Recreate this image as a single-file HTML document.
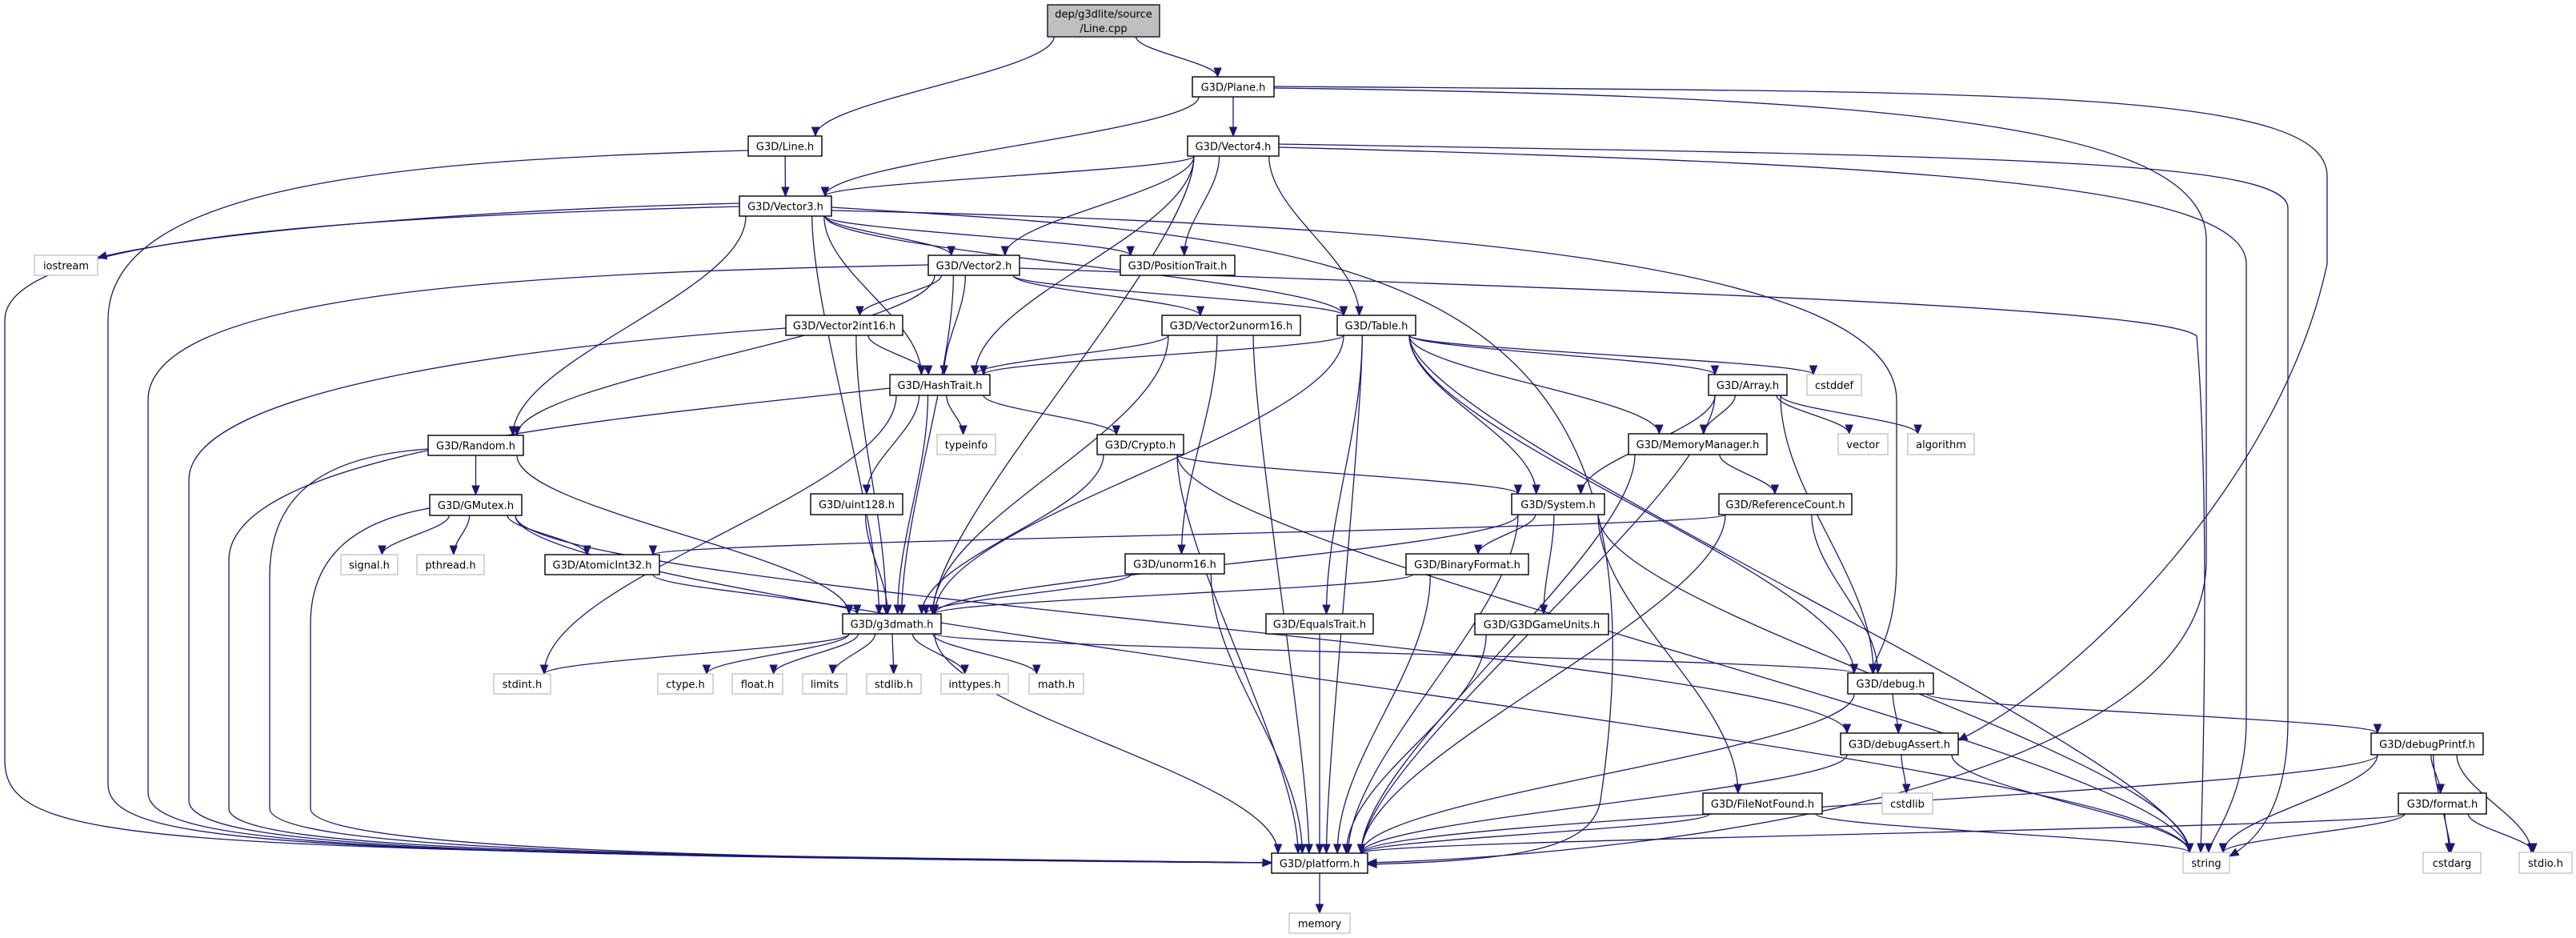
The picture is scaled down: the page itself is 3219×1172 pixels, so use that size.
<!DOCTYPE html>
<html><head><meta charset="utf-8">
<style>
html,body{margin:0;padding:0;background:#fff;}
svg{display:block;}
text{font-family:"DejaVu Sans","Liberation Sans",sans-serif;font-size:13px;fill:#000;}
</style></head>
<body>
<svg id="g" xmlns="http://www.w3.org/2000/svg" width="3219" height="1172" viewBox="0 0 3219 1172">
<rect width="3219" height="1172" fill="#fff"/>
<g id="edges" fill="none" stroke="#191970" stroke-width="1.3"></g>
<g id="heads" fill="#191970" stroke="#191970" stroke-width="1"></g>
<g id="nodes">
<rect x="1309" y="6" width="140" height="40" fill="#bfbfbf" stroke="#000" stroke-width="1.3"/>
<text x="1379" y="22" text-anchor="middle">dep/g3dlite/source</text>
<text x="1379" y="40" text-anchor="middle">/Line.cpp</text>
</g>
</svg>
<script>
var N={
Plane:[1490,96,1592,121,"G3D/Plane.h",1],
LineH:[935,170,1027,195,"G3D/Line.h",1],
Vector4:[1484,170,1598,195,"G3D/Vector4.h",1],
Vector3:[924,245,1039,270,"G3D/Vector3.h",1],
iostream:[43,319,122,344,"iostream",0],
Vector2:[1160,319,1274,344,"G3D/Vector2.h",1],
PositionTrait:[1400,319,1543,344,"G3D/PositionTrait.h",1],
Vector2int16:[982,394,1128,419,"G3D/Vector2int16.h",1],
Vector2unorm16:[1452,394,1625,419,"G3D/Vector2unorm16.h",1],
Table:[1671,394,1769,419,"G3D/Table.h",1],
HashTrait:[1112,468,1237,494,"G3D/HashTrait.h",1],
Array:[2135,468,2233,494,"G3D/Array.h",1],
cstddef:[2258,468,2326,494,"cstddef",0],
Random:[535,544,654,569,"G3D/Random.h",1],
typeinfo:[1171,543,1244,568,"typeinfo",0],
Crypto:[1371,543,1479,568,"G3D/Crypto.h",1],
MemoryManager:[2035,542,2208,568,"G3D/MemoryManager.h",1],
vector:[2297,542,2359,568,"vector",0],
algorithm:[2384,542,2467,568,"algorithm",0],
GMutex:[537,618,652,644,"G3D/GMutex.h",1],
uint128:[1013,617,1128,643,"G3D/uint128.h",1],
System:[1889,617,2005,643,"G3D/System.h",1],
ReferenceCount:[2148,617,2314,643,"G3D/ReferenceCount.h",1],
signal:[426,693,497,718,"signal.h",0],
pthread:[521,693,605,718,"pthread.h",0],
AtomicInt32:[681,693,824,718,"G3D/AtomicInt32.h",1],
unorm16:[1406,692,1530,717,"G3D/unorm16.h",1],
BinaryFormat:[1757,692,1910,718,"G3D/BinaryFormat.h",1],
g3dmath:[1053,767,1176,792,"G3D/g3dmath.h",1],
EqualsTrait:[1582,767,1716,792,"G3D/EqualsTrait.h",1],
G3DGameUnits:[1843,767,2010,793,"G3D/G3DGameUnits.h",1],
stdint:[617,842,688,867,"stdint.h",0],
ctype:[822,842,891,867,"ctype.h",0],
float:[915,842,978,867,"float.h",0],
limits:[1003,842,1058,867,"limits",0],
stdlib:[1083,842,1151,867,"stdlib.h",0],
inttypes:[1176,842,1260,867,"inttypes.h",0],
math:[1286,842,1354,867,"math.h",0],
debug:[2309,841,2416,867,"G3D/debug.h",1],
debugAssert:[2300,916,2447,943,"G3D/debugAssert.h",1],
debugPrintf:[2963,916,3103,943,"G3D/debugPrintf.h",1],
FileNotFound:[2128,991,2277,1017,"G3D/FileNotFound.h",1],
cstdlib:[2352,991,2415,1017,"cstdlib",0],
format:[2997,991,3107,1017,"G3D/format.h",1],
platform:[1589,1066,1709,1091,"G3D/platform.h",1],
string:[2728,1065,2786,1091,"string",0],
cstdarg:[3028,1065,3100,1091,"cstdarg",0],
stdio:[3148,1065,3214,1091,"stdio.h",0],
memory:[1611,1141,1687,1166,"memory",0],
LineCpp:[1309,6,1449,46,"",2]
};
var E=[
["LineCpp","LineH"],["LineCpp","Plane"],
["Plane","Vector3"],["Plane","Vector4"],
["Vector4","Vector3"],["Vector4","Vector2"],["Vector4","PositionTrait"],["Vector4","Table"],["Vector4","HashTrait"],["Vector4","g3dmath"],
["LineH","Vector3"],
["Vector3","Random"],["Vector3","g3dmath"],["Vector3","HashTrait"],["Vector3","Vector2"],["Vector3","PositionTrait"],["Vector3","Table"],
["Vector2","Random"],["Vector2","g3dmath"],["Vector2","Vector2int16"],["Vector2","HashTrait"],["Vector2","Vector2unorm16"],["Vector2","Table"],
["Vector2int16","HashTrait"],["Vector2int16","g3dmath"],
["Vector2unorm16","HashTrait"],["Vector2unorm16","g3dmath"],["Vector2unorm16","unorm16"],["Vector2unorm16","platform"],
["Table","HashTrait"],["Table","g3dmath"],["Table","Array"],["Table","cstddef"],["Table","MemoryManager"],["Table","System"],["Table","EqualsTrait"],["Table","platform"],["Table","debug"],["Table","string"],
["HashTrait","typeinfo"],["HashTrait","Crypto"],["HashTrait","uint128"],["HashTrait","g3dmath"],["HashTrait","stdint"],
["Crypto","System"],["Crypto","g3dmath"],["Crypto","platform"],["Crypto","string"],
["uint128","g3dmath"],
["Random","GMutex"],["Random","g3dmath"],
["GMutex","signal"],["GMutex","pthread"],["GMutex","AtomicInt32"],["GMutex","debugAssert"],["GMutex","string"],
["AtomicInt32","g3dmath"],
["unorm16","g3dmath"],["unorm16","platform"],
["EqualsTrait","platform"],
["g3dmath","stdint"],["g3dmath","ctype"],["g3dmath","float"],["g3dmath","limits"],["g3dmath","stdlib"],["g3dmath","inttypes"],["g3dmath","math"],["g3dmath","platform"],["g3dmath","debug"],
["Array","MemoryManager"],["Array","System"],["Array","vector"],["Array","algorithm"],["Array","platform"],["Array","debug"],
["MemoryManager","ReferenceCount"],["MemoryManager","platform"],
["ReferenceCount","AtomicInt32"],["ReferenceCount","debug"],["ReferenceCount","platform"],
["System","g3dmath"],["System","BinaryFormat"],["System","G3DGameUnits"],["System","FileNotFound"],["System","platform"],["System","string"],
["BinaryFormat","g3dmath"],["BinaryFormat","platform"],
["G3DGameUnits","platform"],
["FileNotFound","platform"],["FileNotFound","string"],
["debug","debugAssert"],["debug","debugPrintf"],["debug","platform"],
["debugAssert","cstdlib"],["debugAssert","string"],["debugAssert","platform"],
["debugPrintf","format"],["debugPrintf","cstdarg"],["debugPrintf","stdio"],["debugPrintf","string"],["debugPrintf","platform"],
["format","cstdarg"],["format","stdio"],["format","string"],["format","platform"],
["platform","memory"]
];
var S=[
["M924,254 C600,262 250,290 122,322",1],
["M924,258 C400,272 6,300 6,400 L6,950 C6,1060 200,1060 1589,1078",1],
["M935,188 C500,200 135,230 135,400 L135,980 C135,1060 400,1065 1589,1078",1],
["M1160,331 C700,340 185,360 185,500 L185,990 C185,1060 500,1068 1589,1078",1],
["M982,410 C700,430 236,480 236,600 L236,1000 C236,1060 600,1070 1589,1078",1],
["M1112,485 C800,520 286,560 286,700 L286,1010 C286,1060 700,1070 1589,1078",1],
["M535,561 C400,570 337,620 337,720 L337,1010 C337,1060 800,1072 1589,1078",1],
["M537,635 C450,650 388,690 388,780 L388,1010 C388,1060 900,1074 1589,1078",1],
["M1592,108 C2500,115 2908,110 2908,220 L2908,330 C2850,600 2600,850 2447,925",1],
["M1592,110 C2400,120 2757,160 2757,300 L2757,700 C2757,1000 2000,1070 1709,1078",1],
["M1598,180 C2500,195 2859,200 2859,260 L2859,900 C2859,1010 2820,1050 2786,1070",1],
["M1598,184 C2400,205 2807,230 2807,330 L2807,900 C2807,1000 2760,1050 2760,1065",1],
["M1039,263 C1800,280 2370,330 2370,500 L2370,700 C2370,800 2340,820 2340,841",1],
["M1274,335 C1900,360 2700,380 2745,420 C2760,600 2755,900 2750,1065",1],
["M1039,259 C1700,300 2100,320 2000,1000 C1990,1060 1900,1075 1709,1080",1]
];
var ns="http://www.w3.org/2000/svg";
var eg=document.getElementById("edges"),hg=document.getElementById("heads"),ng=document.getElementById("nodes");
function el(t,a,p){var e=document.createElementNS(ns,t);for(var k in a)e.setAttribute(k,a[k]);p.appendChild(e);return e;}
function head(px,py,ex,ey){var dx=ex-px,dy=ey-py,l=Math.sqrt(dx*dx+dy*dy)||1;dx/=l;dy/=l;var L=11,W=4.5;var bx=ex-dx*L,by=ey-dy*L;
el("polygon",{points:ex+","+ey+" "+(bx-dy*W)+","+(by+dx*W)+" "+(bx+dy*W)+","+(by-dx*W)},hg);}
function c(n){return [(n[0]+n[2])/2,(n[1]+n[3])/2];}
function clamp(v,a,b){return Math.max(a,Math.min(b,v));}
E.forEach(function(e){var a=N[e[0]],b=N[e[1]];var ca=c(a),cb=c(b);var sx,sy,ex,ey,d,k;
if(b[1]-a[3]>20){sx=clamp(ca[0]+(cb[0]-ca[0])*0.25,a[0]+8,a[2]-8);sy=a[3];ex=clamp(cb[0]+(ca[0]-cb[0])*0.12,b[0]+8,b[2]-8);ey=b[1];
k=Math.min((ey-sy)*0.35,120);d="M"+sx+","+sy+" C"+sx+","+(sy+k)+" "+ex+","+(ey-k)+" "+ex+","+ey;el("path",{d:d},eg);head(ex,ey-k,ex,ey);}
else if(a[1]-b[3]>20){sx=ca[0];sy=a[1];ex=cb[0];ey=b[3];d="M"+sx+","+sy+" L"+ex+","+ey;el("path",{d:d},eg);head(sx,sy,ex,ey);}
else{var r=cb[0]>ca[0];sx=r?a[2]:a[0];sy=ca[1];ex=r?b[0]:b[2];ey=cb[1];k=(ex-sx)*0.4;d="M"+sx+","+sy+" C"+(sx+k)+","+sy+" "+(ex-k)+","+ey+" "+ex+","+ey;el("path",{d:d},eg);head(ex-k,ey,ex,ey);}
});
S.forEach(function(s){el("path",{d:s[0]},eg);var m=s[0].match(/-?[\d.]+/g).map(Number);var n=m.length;head(m[n-4],m[n-3],m[n-2],m[n-1]);});
for(var k in N){var n=N[k];if(n[5]==2)continue;var w=n[2]-n[0],h=n[3]-n[1];
el("rect",{x:n[0],y:n[1],width:w,height:h,fill:"#fff",stroke:n[5]?"#000":"#bfbfbf","stroke-width":n[5]?1.4:1.3},ng);
var t=el("text",{x:n[0]+w/2,y:n[1]+h/2+5,"text-anchor":"middle"},ng);t.textContent=n[4];
var tl=t.getComputedTextLength?t.getComputedTextLength():0;if(tl>w-12){t.setAttribute("textLength",w-12);t.setAttribute("lengthAdjust","spacingAndGlyphs");}}
</script>
</body></html>
